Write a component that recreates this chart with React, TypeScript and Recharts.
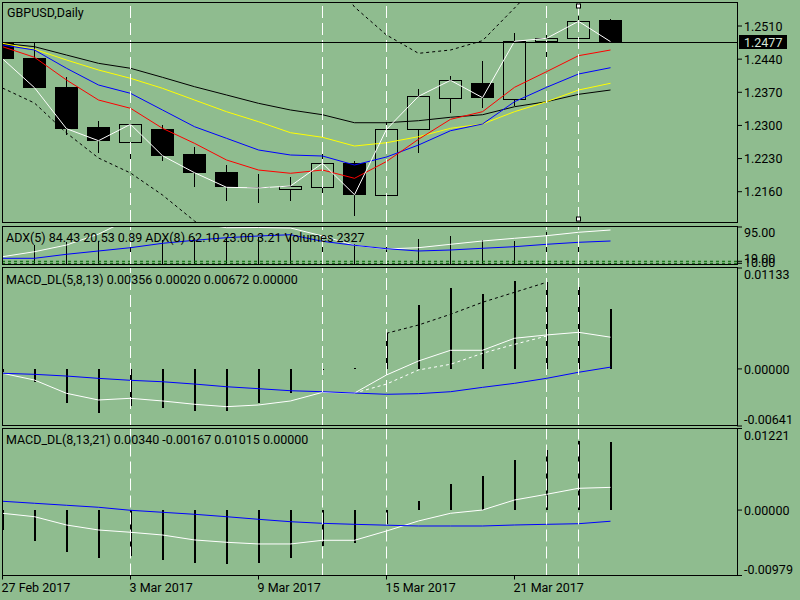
import React from 'react';
import { ComposedChart, Bar, Line, XAxis, YAxis, ReferenceLine } from 'recharts';

const BG = '#8fbc8f';
const FONT = 'Roboto, "Liberation Sans", sans-serif';
const FONT_SIZE = 12.5;

// --- data ---
const dates = [
  '27 Feb 2017', '28 Feb 2017', '1 Mar 2017', '2 Mar 2017', '3 Mar 2017',
  '6 Mar 2017', '7 Mar 2017', '8 Mar 2017', '9 Mar 2017', '10 Mar 2017',
  '13 Mar 2017', '14 Mar 2017', '15 Mar 2017', '16 Mar 2017', '17 Mar 2017',
  '20 Mar 2017', '21 Mar 2017', '22 Mar 2017', '23 Mar 2017', '24 Mar 2017',
];
const opens = [1.24735, 1.24418, 1.23805, 1.22967, 1.22656, 1.22931, 1.22396, 1.22016, 1.21689, 1.21651, 1.21706, 1.222, 1.2152, 1.22918, 1.23586, 1.2389, 1.23564, 1.24777, 1.2484, 1.25227];
const highs = [1.24783, 1.24735, 1.24029, 1.23093, 1.2303, 1.23009, 1.2255, 1.22164, 1.21974, 1.21917, 1.22517, 1.22242, 1.23079, 1.23763, 1.24044, 1.24361, 1.24946, 1.25073, 1.25311, 1.25248];
const lows = [1.24361, 1.2379, 1.22798, 1.22424, 1.22149, 1.22248, 1.21706, 1.2141, 1.21355, 1.2141, 1.21579, 1.21087, 1.21509, 1.22424, 1.23256, 1.23362, 1.2341, 1.2424, 1.24629, 1.2475];
const closes = [1.24409, 1.23797, 1.22931, 1.22677, 1.23024, 1.2236, 1.22001, 1.21693, 1.2168, 1.2172, 1.222, 1.21537, 1.22918, 1.23615, 1.23953, 1.23586, 1.24777, 1.2484, 1.25199, 1.2477];

const maRed = [1.24663, 1.24439, 1.23959, 1.23537, 1.23362, 1.22939, 1.22622, 1.2227, 1.22058, 1.21989, 1.22058, 1.21883, 1.22238, 1.22707, 1.23129, 1.2329, 1.23805, 1.24135, 1.24473, 1.24593];
const maBlue = [1.24699, 1.24593, 1.24207, 1.23854, 1.23678, 1.23326, 1.22973, 1.22728, 1.22481, 1.22375, 1.22354, 1.22164, 1.22333, 1.22586, 1.22888, 1.2303, 1.23501, 1.23805, 1.24086, 1.24219];
const maYellow = [1.24735, 1.24608, 1.24382, 1.24171, 1.23995, 1.23784, 1.23537, 1.2329, 1.23079, 1.22846, 1.22749, 1.22565, 1.22635, 1.22762, 1.22939, 1.2303, 1.2329, 1.23501, 1.23748, 1.2389];
const maBlack = [1.24735, 1.24663, 1.24487, 1.24312, 1.24207, 1.24016, 1.23818, 1.23643, 1.23467, 1.23326, 1.23226, 1.23057, 1.23057, 1.231, 1.23172, 1.23226, 1.23395, 1.23501, 1.23657, 1.23748];
const bandUpper = [null, null, null, null, null, null, null, null, null, null, 1.26494, 1.25501, 1.2491, 1.24523, 1.24593, 1.2479, 1.2548, 1.26177, null, null];
const bandLower = [1.2379, 1.23473, 1.2284, 1.22312, 1.21995, 1.2153, 1.20981, 1.20474, null, null, null, null, null, null, null, null, null, null, null, null];

const adxWhite = [-9.4, 8.2, 31.7, 70, 125, 130, 110, 92.5, 93.2, 91.5, 63.4, 30.7, 17.7, 22.3, 34.2, 45.8, 55.3, 64.4, 76.4, 84.43];
const adxBlue = [-15, -15, -0.9, 10.7, 22.3, 37.7, 48.3, 57.4, 63.4, 67.9, 44.7, 30.7, 18.7, 10.7, 14.2, 20.2, 25.8, 34.2, 41.2, 45.8];
const adxVolumes = [30, 31.7, 43.3, 45.8, 49.3, 49.3, 54.6, 57.4, 59.9, 66.9, 48.3, 36.3, 50, 52.8, 63.4, 49.3, 45.8, 78.5, 46.9, -31.5];

const macd1Hist = [-0.0004, -0.0015, -0.00386, -0.00499, -0.00413, -0.00442, -0.00469, -0.00469, -0.00386, -0.00267, -0.0001, 0.00013, 0.004, 0.00717, 0.00905, 0.00838, 0.00987, 0.00972, 0.0092, 0.00672];
const macd1Main = [-0.00049, -0.00125, -0.00274, -0.00349, -0.0033, -0.0036, -0.00397, -0.00424, -0.00405, -0.0036, -0.00263, -0.00271, -0.00068, 0.00089, 0.00209, 0.00209, 0.00344, 0.00381, 0.00411, 0.00356];
const macd1Signal = [-0.00049, -0.00061, -0.0008, -0.00106, -0.00128, -0.00144, -0.0017, -0.002, -0.00222, -0.00245, -0.00256, -0.00271, -0.00285, -0.00278, -0.00256, -0.00207, -0.00162, -0.00106, -0.00038, 0.0002];
const macd1Dashed = [null, null, null, null, null, null, null, null, null, null, null, -0.00271, -0.0017, -0.00012, 0.00052, 0.00175, 0.00276, 0.00369, null, null];
const macd1Upper = [null, null, null, null, null, null, null, null, null, null, null, null, 0.004, 0.00493, 0.00613, 0.00748, 0.0086, 0.00972, null, null];

const macd2Hist = [-0.003, -0.00462, -0.00623, -0.00712, -0.00682, -0.00747, -0.00787, -0.00811, -0.00787, -0.00712, -0.00533, -0.00488, -0.00213, 0.00136, 0.00391, 0.0051, 0.0075, 0.00899, 0.01039, 0.01015];
const macd2Main = [-0.00048, -0.00099, -0.00223, -0.00298, -0.00332, -0.00373, -0.00447, -0.00482, -0.00507, -0.00507, -0.00452, -0.00452, -0.00313, -0.00163, -0.00048, 0.00001, 0.00151, 0.00236, 0.00326, 0.0034];
const macd2Signal = [0.00132, 0.00102, 0.00072, 0.00042, -0.00003, -0.00033, -0.00063, -0.00099, -0.00138, -0.00174, -0.00198, -0.00213, -0.00226, -0.00238, -0.00238, -0.00238, -0.00223, -0.00213, -0.00204, -0.00167];

// axes, ticks, markers
const xDomain = [-0.015625, 22.953125];
const separators = [4, 10, 12, 17];
const selectedSeparator = 18;
const dateTicks = [0, 4, 8, 12, 16];
const priceDomain = [1.2096, 1.25586];
const priceTicks = [1.216, 1.223, 1.23, 1.237, 1.244, 1.251];
const lastPrice = 1.2477;
const adxDomain = [-35, 95];
const adxTicks = [95, -25.5, -32.5];
const adxTickLabels = ['95.00', '19.00', '10.00'];
const adxLevels = [-25.5, -32.5];
const macd1Domain = [-0.00641, 0.01133];
const macd2Domain = [-0.00979, 0.01221];

const titles = [
  'GBPUSD,Daily',
  'ADX(5) 84.43 20.53 0.89 ADX(8) 62.10 23.00 3.21 Volumes 2327',
  'MACD_DL(5,8,13) 0.00356 0.00020 0.00672 0.00000',
  'MACD_DL(8,13,21) 0.00340 -0.00167 0.01015 0.00000',
];

const rows = dates.map((date, i) => ({
  i,
  date,
  open: opens[i],
  high: highs[i],
  low: lows[i],
  close: closes[i],
  range: [lows[i], highs[i]],
  red: maRed[i],
  blue: maBlue[i],
  yellow: maYellow[i],
  black: maBlack[i],
  upper: bandUpper[i],
  lower: bandLower[i],
  adxWhite: adxWhite[i],
  adxBlue: adxBlue[i],
  vol: [adxDomain[0], adxVolumes[i]],
  h1: macd1Hist[i],
  m1: macd1Main[i],
  s1: macd1Signal[i],
  d1: macd1Dashed[i],
  u1: macd1Upper[i],
  h2: macd2Hist[i],
  m2: macd2Main[i],
  s2: macd2Signal[i],
}));

const Candle = (props: any) => {
  const { x, y, width, height, payload } = props;
  const { open, close, high, low } = payload;
  const span = high - low || 1e-9;
  const yOf = (v: number) => y + ((high - v) / span) * height;
  const cx = Math.floor(x + width / 2) + 0.5;
  const top = Math.round(yOf(Math.max(open, close)));
  const bottom = Math.round(yOf(Math.min(open, close)));
  const left = Math.round(x);
  const w = Math.round(width);
  return (
    <g>
      <line x1={cx} x2={cx} y1={Math.round(y)} y2={Math.round(y + height)} stroke="#000" />
      {close >= open ? (
        <rect x={left + 0.5} y={top + 0.5} width={w - 1} height={Math.max(bottom - top, 0)} fill={BG} stroke="#000" />
      ) : (
        <rect x={left} y={top} width={w} height={Math.max(bottom - top, 1)} fill="#000" />
      )}
    </g>
  );
};

// thin histogram / volume stick, snapped to whole pixels
const Stick = (props: any) => {
  const { x, y, width, height } = props;
  const top = Math.round(Math.min(y, y + height));
  const bottom = Math.round(Math.max(y, y + height));
  const w = Math.max(1, Math.round(width));
  const cx = x + width / 2;
  return <rect x={Math.round(cx - w / 2)} y={top} width={w} height={Math.max(bottom - top, 1)} fill="#000" shapeRendering="crispEdges" />;
};

const RightTick = ({ x, y, label, shift = 0 }: any) => (
  <text x={x} y={y + shift} dy="0.36em" textAnchor="start" fontFamily={FONT} fontSize={FONT_SIZE} fill="#000">
    {label}
  </text>
);

const edgeShift = (v: number, domain: number[]) => (v >= domain[1] ? 6.5 : v <= domain[0] ? -6.5 : 0.5);

const PriceLine = (p: any) => {
  const yy = Math.round(p.y1) + 0.5;
  return <line x1={p.x1} x2={p.x2} y1={yy} y2={yy} stroke="#000" />;
};

const PriceTag = ({ viewBox }: any) => {
  const right = viewBox.x + viewBox.width;
  const yy = Math.round(viewBox.y);
  return (
    <g>
      <rect x={right + 2} y={yy - 7} width={48} height={14} fill="#000" />
      <text x={right + 7} y={yy} dy="0.36em" fontFamily={FONT} fontSize={FONT_SIZE} fill="#d6e6d6">
        {lastPrice.toFixed(4)}
      </text>
    </g>
  );
};

const SelectedLine = (p: any) => {
  const top = Math.min(p.y1, p.y2);
  const bottom = Math.max(p.y1, p.y2);
  const xx = Math.floor(p.x1) + 0.5;
  return (
    <g>
      <line x1={xx} x2={xx} y1={top} y2={bottom} stroke="#fff" strokeDasharray="12 5" />
      <rect x={xx - 2} y={top + 1} width={4} height={4} fill="#fff" stroke="#000" />
      <rect x={xx - 2} y={bottom - 5} width={4} height={4} fill="#fff" stroke="#000" />
    </g>
  );
};

const sep = (s: number) => (
  <ReferenceLine key={`sep${s}`} x={s} stroke="#fff" strokeDasharray="12 5" ifOverflow="hidden" />
);

const lineProps = { dot: false, activeDot: false, isAnimationActive: false, strokeWidth: 1, type: 'linear' as const };

const App = () => {
  return (
    <div style={{ position: 'absolute', left: 0, top: 0, width: 800, height: 600, background: BG, overflow: 'hidden' }}>
      {/* main price panel */}
      <div style={{ position: 'absolute', left: 0, top: 0 }}>
        <ComposedChart width={800} height={225} data={rows} margin={{ top: 3, right: 0, bottom: 3, left: 2 }}>
          <XAxis dataKey="i" type="number" domain={xDomain} allowDataOverflow hide />
          <YAxis
            orientation="right"
            width={63}
            type="number"
            domain={priceDomain}
            allowDataOverflow
            ticks={priceTicks}
            interval={0}
            axisLine={false}
            tickLine={{ stroke: '#000' }}
            tickSize={5}
            tickMargin={2}
            tick={(p: any) => <RightTick {...p} label={p.payload.value.toFixed(4)} />}
          />
          <Bar dataKey="range" barSize={23} shape={Candle} isAnimationActive={false} />
          <Line dataKey="upper" stroke="#000" strokeDasharray="3 3" {...lineProps} />
          <Line dataKey="lower" stroke="#000" strokeDasharray="3 3" {...lineProps} />
          <Line dataKey="black" stroke="#000" {...lineProps} />
          <Line dataKey="yellow" stroke="#ffff00" {...lineProps} />
          <Line dataKey="blue" stroke="#0000ff" {...lineProps} />
          <Line dataKey="red" stroke="#ff0000" {...lineProps} />
          <Line dataKey="close" stroke="#fff" {...lineProps} />
          {separators.map(sep)}
          <ReferenceLine x={selectedSeparator} stroke="#fff" shape={SelectedLine} />
          <ReferenceLine y={lastPrice} stroke="#000" shape={PriceLine} label={(p: any) => <PriceTag {...p} />} />
        </ComposedChart>
      </div>

      {/* ADX / volumes panel (taller svg so the low level labels are not cut) */}
      <div style={{ position: 'absolute', left: 0, top: 224 }}>
        <ComposedChart width={800} height={47} data={rows} margin={{ top: 3, right: 0, bottom: 7, left: 2 }}>
          <XAxis dataKey="i" type="number" domain={xDomain} allowDataOverflow hide />
          <YAxis
            orientation="right"
            width={63}
            type="number"
            domain={adxDomain}
            allowDataOverflow
            ticks={adxTicks}
            interval={0}
            axisLine={false}
            tickLine={{ stroke: '#000' }}
            tickSize={5}
            tickMargin={2}
            tick={(p: any) => {
              const idx = adxTicks.indexOf(p.payload.value);
              const shift = idx === 0 ? 5.5 : idx === 1 ? -3 : -0.5;
              return <RightTick {...p} label={adxTickLabels[idx]} shift={shift} />;
            }}
          />
          {adxLevels.map((lv) => (
            <ReferenceLine key={`lv${lv}`} y={lv} stroke="#006400" strokeDasharray="3 3" />
          ))}
          <Bar dataKey="vol" barSize={1} shape={Stick} isAnimationActive={false} />
          <Line dataKey="adxWhite" stroke="#fff" {...lineProps} />
          <Line dataKey="adxBlue" stroke="#0000ff" {...lineProps} />
          {[...separators, selectedSeparator].map(sep)}
        </ComposedChart>
      </div>

      {/* MACD (5,8,13) */}
      <div style={{ position: 'absolute', left: 0, top: 266 }}>
        <ComposedChart width={800} height={162} data={rows} margin={{ top: 2, right: 0, bottom: 2, left: 2 }}>
          <XAxis dataKey="i" type="number" domain={xDomain} allowDataOverflow hide />
          <YAxis
            orientation="right"
            width={63}
            type="number"
            domain={macd1Domain}
            allowDataOverflow
            ticks={[macd1Domain[1], 0, macd1Domain[0]]}
            interval={0}
            axisLine={false}
            tickLine={{ stroke: '#000' }}
            tickSize={5}
            tickMargin={2}
            tick={(p: any) => (
              <RightTick {...p} label={p.payload.value.toFixed(5)} shift={edgeShift(p.payload.value, macd1Domain)} />
            )}
          />
          <Bar dataKey="h1" barSize={2} shape={Stick} isAnimationActive={false} />
          <Line dataKey="u1" stroke="#000" strokeDasharray="3 3" {...lineProps} />
          <Line dataKey="d1" stroke="#fff" strokeDasharray="3 3" {...lineProps} />
          <Line dataKey="m1" stroke="#fff" {...lineProps} />
          <Line dataKey="s1" stroke="#0000ff" {...lineProps} />
          {[...separators, selectedSeparator].map(sep)}
        </ComposedChart>
      </div>

      {/* MACD (8,13,21) with the date axis */}
      <div style={{ position: 'absolute', left: 0, top: 427 }}>
        <ComposedChart width={800} height={173} data={rows} margin={{ top: 1.5, right: 0, bottom: 0, left: 2 }}>
          <XAxis
            dataKey="i"
            type="number"
            domain={xDomain}
            allowDataOverflow
            ticks={dateTicks}
            interval={0}
            height={24.5}
            axisLine={false}
            tickLine={{ stroke: '#000' }}
            tickSize={4}
            tickMargin={2}
            tick={(p: any) => (
              <text x={p.x - 1} y={p.y} dy={10} textAnchor="start" fontFamily={FONT} fontSize={FONT_SIZE} fill="#000">
                {dates[p.payload.value]}
              </text>
            )}
          />
          <YAxis
            orientation="right"
            width={63}
            type="number"
            domain={macd2Domain}
            allowDataOverflow
            ticks={[macd2Domain[1], 0, macd2Domain[0]]}
            interval={0}
            axisLine={false}
            tickLine={{ stroke: '#000' }}
            tickSize={5}
            tickMargin={2}
            tick={(p: any) => (
              <RightTick {...p} label={p.payload.value.toFixed(5)} shift={edgeShift(p.payload.value, macd2Domain)} />
            )}
          />
          <Bar dataKey="h2" barSize={2} shape={Stick} isAnimationActive={false} />
          <Line dataKey="m2" stroke="#fff" {...lineProps} />
          <Line dataKey="s2" stroke="#0000ff" {...lineProps} />
          {[...separators, selectedSeparator].map(sep)}
        </ComposedChart>
      </div>

      {/* window frames and indicator titles */}
      <svg width={800} height={600} style={{ position: 'absolute', left: 0, top: 0, pointerEvents: 'none' }}>
        <g fill="none" stroke="#000">
          <rect x={2.5} y={2.5} width={735} height={220} />
          <rect x={2.5} y={226.5} width={735} height={38} />
          <rect x={2.5} y={267.5} width={735} height={158} />
          <rect x={2.5} y={428.5} width={735} height={147} />
        </g>
        <g fontFamily={FONT} fontSize={FONT_SIZE} fill="#000">
          <text x={7} y={16.5}>{titles[0]}</text>
          <text x={6} y={241.5}>{titles[1]}</text>
          <text x={6} y={284}>{titles[2]}</text>
          <text x={6} y={444}>{titles[3]}</text>
        </g>
      </svg>
    </div>
  );
};

export default App;
